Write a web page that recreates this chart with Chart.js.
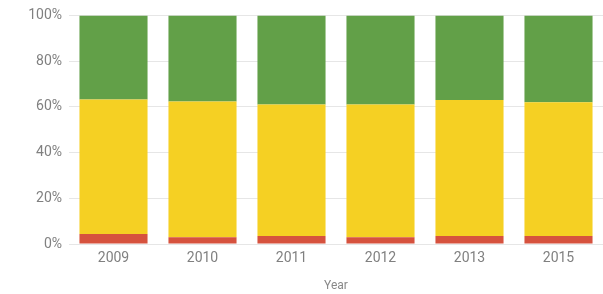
<!DOCTYPE html>
<html>
<head>
<meta charset="utf-8">
<script src="https://cdn.jsdelivr.net/npm/chart.js@4/dist/chart.umd.min.js"></script>
<style>
  html, body { margin: 0; padding: 0; background: #fff; }
  #wrap { width: 603px; height: 294px; }
</style>
</head>
<body>
<div id="wrap"><canvas id="myChart" width="603" height="294"></canvas></div>
<script>
// Values (percent of total)
var years = ['2009', '2010', '2011', '2012', '2013', '2015'];
var redShare = [4.4, 3.0, 3.5, 3.0, 3.5, 3.5];
var yellowShare = [58.8, 59.3, 57.5, 58.0, 59.5, 58.5];
var greenShare = [36.8, 37.7, 39.0, 39.0, 37.0, 38.0];
var yTicks = [0, 20, 40, 60, 80, 100];

var ctx = document.getElementById('myChart').getContext('2d');

var myChart = new Chart(ctx, {
    type: 'bar',
    data: {
        labels: years,
        datasets: [
            { label: 'Red', data: redShare, backgroundColor: 'rgb(214, 82, 62)' },
            { label: 'Yellow', data: yellowShare, backgroundColor: 'rgb(245, 208, 35)' },
            { label: 'Green', data: greenShare, backgroundColor: 'rgb(98, 160, 72)' }
        ]
    },
    options: {
        responsive: false,
        animation: false,
        layout: { padding: { top: 14, right: 0, left: 0, bottom: 0 } },
        plugins: {
            legend: { display: false },
            tooltip: { enabled: false }
        },
        datasets: {
            bar: { categoryPercentage: 0.765, barPercentage: 1.0 }
        },
        scales: {
            x: {
                stacked: true,
                grid: { display: false, drawTicks: false },
                border: { display: false },
                ticks: { color: '#808080', font: { family: 'Roboto', size: 14 }, padding: 6 },
                title: { display: true, text: 'Year', color: '#888', font: { family: 'Roboto', size: 12 }, padding: { top: 8, bottom: 1 } },
                afterFit: function (axis) { axis.height = 50; }
            },
            y: {
                stacked: true,
                min: 0,
                max: 100,
                afterBuildTicks: function (axis) {
                    axis.ticks = yTicks.map(function (v) { return { value: v }; });
                },
                afterFit: function (axis) { axis.width = 69; },
                grid: { color: '#e6e6e6', drawTicks: false },
                border: { display: false },
                ticks: {
                    color: '#808080',
                    font: { family: 'Roboto', size: 14 },
                    padding: 7,
                    callback: function (v) { return v + '%'; }
                }
            }
        }
    }
});
</script>
</body>
</html>
